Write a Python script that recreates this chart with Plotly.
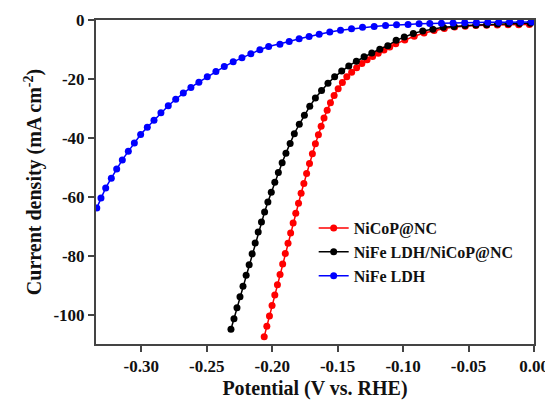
import plotly.graph_objects as go

# ---- data ----
series_names = ["NiCoP@NC", "NiFe LDH/NiCoP@NC", "NiFe LDH"]
series_colors = ["#FF0000", "#000000", "#0000FF"]

nicop_x = [-0.2061, -0.2041, -0.2021, -0.2001, -0.1980, -0.1960, -0.1940, -0.1920, -0.1900, -0.1879,
           -0.1859, -0.1840, -0.1820, -0.1799, -0.1779, -0.1758, -0.1737, -0.1715, -0.1693, -0.1670,
           -0.1647, -0.1626, -0.1604, -0.1580, -0.1555, -0.1527, -0.1496, -0.1464, -0.1430, -0.1393,
           -0.1355, -0.1315, -0.1275, -0.1233, -0.1190, -0.1146, -0.1102, -0.1056,
           -0.0987, -0.0915, -0.0840, -0.0763, -0.0685, -0.0606, -0.0525, -0.0444, -0.0362, -0.0280,
           -0.0198, -0.0117, -0.0035]
nicop_y = [-107.5, -104.0, -100.5, -96.9, -93.4, -89.9, -86.4, -82.8, -79.3, -75.8,
           -72.3, -68.9, -65.6, -62.2, -58.8, -55.5, -52.1, -48.7, -45.4, -42.0,
           -39.0, -36.1, -33.3, -30.6, -28.1, -25.6, -23.3, -21.2, -19.3, -17.7,
           -16.2, -14.8, -13.5, -12.4, -11.3, -10.2, -9.2, -8.1,
           -6.8, -5.5, -4.4, -3.6, -2.9, -2.4, -2.1, -1.9, -1.8, -1.7,
           -1.6, -1.6, -1.5]

hybrid_x = [-0.2315, -0.2292, -0.2269, -0.2246, -0.2223, -0.2199, -0.2176, -0.2153, -0.2130, -0.2107,
            -0.2082, -0.2058, -0.2033, -0.2007, -0.1980, -0.1953, -0.1924, -0.1895, -0.1863, -0.1831,
            -0.1793, -0.1754, -0.1713, -0.1670, -0.1623, -0.1574, -0.1523, -0.1469, -0.1415, -0.1357,
            -0.1298, -0.1239, -0.1178, -0.1117, -0.1053, -0.0991, -0.0922, -0.0850, -0.0773, -0.0693,
            -0.0611, -0.0527, -0.0444, -0.0361, -0.0278, -0.0195, -0.0111, -0.0028]
hybrid_y = [-105.0, -101.4, -97.7, -94.0, -90.4, -86.7, -83.1, -79.4, -75.7, -72.0,
            -68.6, -65.2, -61.8, -58.5, -55.1, -51.8, -48.5, -45.2, -41.9, -38.6,
            -35.4, -32.3, -29.3, -26.5, -23.9, -21.5, -19.3, -17.3, -15.6, -14.0,
            -12.5, -11.2, -9.9, -8.7, -6.9, -5.8, -4.6, -3.7, -3.1, -2.5,
            -2.2, -1.9, -1.7, -1.6, -1.4, -1.3, -1.2, -1.1]

ldh_x = [-0.3340, -0.3308, -0.3272, -0.3229, -0.3188, -0.3145, -0.3099, -0.3053, -0.3005, -0.2954,
         -0.2903, -0.2850, -0.2794, -0.2737, -0.2679, -0.2621, -0.2560, -0.2496, -0.2430, -0.2366,
         -0.2298, -0.2231, -0.2163, -0.2094, -0.2027,
         -0.1941, -0.1870, -0.1794, -0.1718, -0.1641, -0.1560, -0.1478, -0.1394, -0.1310, -0.1221,
         -0.1134, -0.1050, -0.0962, -0.0878, -0.0796, -0.0707, -0.0618, -0.0529, -0.0440, -0.0353,
         -0.0269, -0.0186, -0.0102, -0.0018]
ldh_y = [-63.8, -60.4, -57.0, -53.7, -50.6, -47.5, -44.6, -41.8, -38.9, -36.4,
         -34.0, -31.5, -29.1, -26.9, -24.8, -22.9, -21.1, -19.3, -17.5, -15.8,
         -14.2, -12.8, -11.5, -10.1, -9.0,
         -8.2, -7.3, -6.4, -5.6, -4.8, -4.1, -3.5, -3.0, -2.5, -2.2,
         -1.9, -1.6, -1.5, -1.3, -1.2, -1.1, -1.0, -0.9, -0.9, -0.8,
         -0.8, -0.7, -0.7, -0.7]

x_tick_vals = [-0.30, -0.25, -0.20, -0.15, -0.10, -0.05, 0.00]
x_tick_text = ["-0.30", "-0.25", "-0.20", "-0.15", "-0.10", "-0.05", "0.00"]
y_tick_vals = [0, -20, -40, -60, -80, -100]
y_tick_text = ["0", "-20", "-40", "-60", "-80", "-100"]

FONT = "Liberation Serif"

fig = go.Figure()
for i, (xs, ys) in enumerate([(nicop_x, nicop_y), (hybrid_x, hybrid_y), (ldh_x, ldh_y)]):
    fig.add_trace(go.Scatter(
        x=xs, y=ys, mode="lines+markers", name=series_names[i],
        line=dict(color=series_colors[i], width=1.5),
        marker=dict(color=series_colors[i], size=7),
    ))

axis_common = dict(
    showline=True, linecolor="#444444", linewidth=2, mirror=True,
    ticks="outside", ticklen=6, tickwidth=1.5, tickcolor="#444444",
    showgrid=False, zeroline=False, automargin=False,
    tickfont=dict(family=FONT, size=17, color="#111111", weight="bold"),
)

fig.update_layout(
    width=545, height=398,
    margin=dict(l=88, r=19, t=12, b=62),
    paper_bgcolor="white", plot_bgcolor="white",
    font=dict(family=FONT, color="#111111"),
    showlegend=True,
    legend=dict(
        x=0.497, y=0.41, xanchor="left", yanchor="top",
        bgcolor="rgba(0,0,0,0)", borderwidth=0,
        font=dict(family=FONT, size=16, color="#111111", weight="bold"),
        itemwidth=30, tracegroupgap=0,
    ),
    xaxis=dict(
        range=[-0.3346, 0.0],
        tickmode="array", tickvals=x_tick_vals, ticktext=x_tick_text,
        title=dict(text="Potential (V vs. RHE)",
                   font=dict(family=FONT, size=20, color="#111111", weight="bold"), standoff=6),
        **axis_common,
    ),
    yaxis=dict(
        range=[-110, 0],
        tickmode="array", tickvals=y_tick_vals, ticktext=y_tick_text,
        title=dict(text="Current density (mA cm<sup>-2</sup>)",
                   font=dict(family=FONT, size=20, color="#111111", weight="bold"), standoff=6),
        **axis_common,
    ),
)

fig.write_html("out.html")
